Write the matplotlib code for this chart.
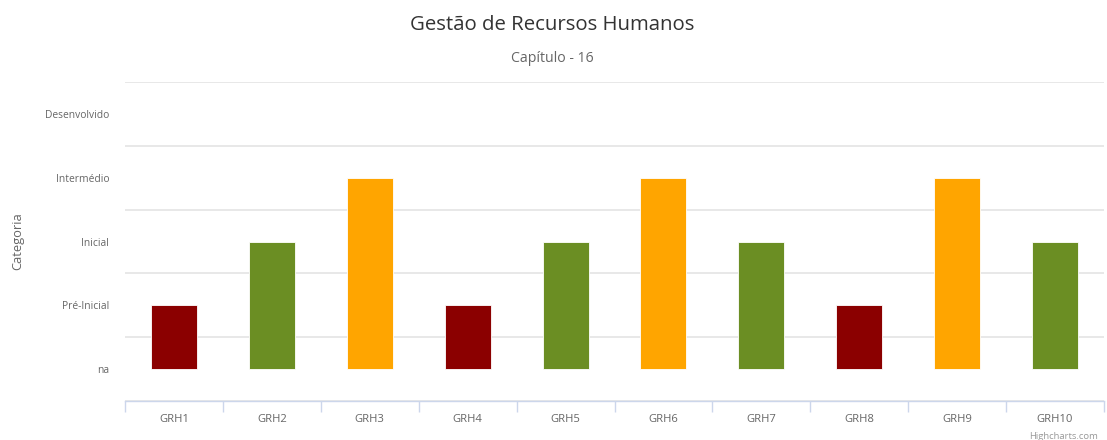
import matplotlib
matplotlib.use("Agg")
import matplotlib.pyplot as plt
import numpy as np

categories = ["GRH1", "GRH2", "GRH3", "GRH4", "GRH5", "GRH6", "GRH7", "GRH8", "GRH9", "GRH10"]
values = [1, 2, 3, 1, 2, 3, 2, 1, 3, 2]
level_labels = ["na", "Pré-Inicial", "Inicial", "Intermédio", "Desenvolvido"]
level_colors = {1: "#8B0000", 2: "#6B8E23", 3: "#FFA500", 4: "#1f77b4"}

plt.rcParams['font.family'] = ['Open Sans', 'DejaVu Sans']

W, H = 1107, 440
fig = plt.figure(figsize=(W / 100, H / 100), dpi=100)
ax = fig.add_axes([125 / W, 1 - 401 / H, 979 / W, 319 / H])

x = np.arange(len(categories))
colors = [level_colors[v] for v in values]
ax.bar(x, values, width=0.47, color=colors, edgecolor="white", linewidth=0.6, zorder=3)

ax.set_xlim(-0.5, len(categories) - 0.5)
ax.set_ylim(-0.5, len(level_labels) - 0.5)

# Y axis
ax.set_yticks(range(len(level_labels)))
ax.set_yticklabels(level_labels, fontsize=7.4, color="#666666")
ax.tick_params(axis="y", length=0, pad=11.5)
ax.set_yticks(np.arange(-0.5, len(level_labels) + 0.5, 1), minor=True)
ax.tick_params(axis="y", which="minor", length=0)
ax.grid(axis="y", which="minor", color="#e6e6e6", linewidth=1.3, zorder=0)

# X axis
ax.set_xticks(x)
ax.set_xticklabels(categories, fontsize=8.1, color="#666666")
ax.tick_params(axis="x", length=0, pad=9)
ax.set_xticks(np.arange(-0.5, len(categories) + 0.5, 1), minor=True)
ax.tick_params(axis="x", which="minor", length=8, color="#ccd6eb", width=1)

for s in ["top", "right", "left"]:
    ax.spines[s].set_visible(False)
ax.spines["bottom"].set_color("#ccd6eb")
ax.spines["bottom"].set_linewidth(1)

ax.set_ylabel("Categoria", fontsize=9.3, color="#666666")
ax.yaxis.set_label_coords(-101 / 979, 0.5)

fig.text(552 / W, 1 - 25 / H, "Gestão de Recursos Humanos", ha="center", va="center",
         fontsize=14.7, color="#333333")
fig.text(552 / W, 1 - 58 / H, "Capítulo - 16", ha="center", va="center",
         fontsize=10.2, color="#666666")
fig.text(1098 / W, 1 - 436 / H, "Highcharts.com", ha="right", va="center",
         fontsize=6.8, color="#999999")

fig.savefig("out.png", dpi=100)
